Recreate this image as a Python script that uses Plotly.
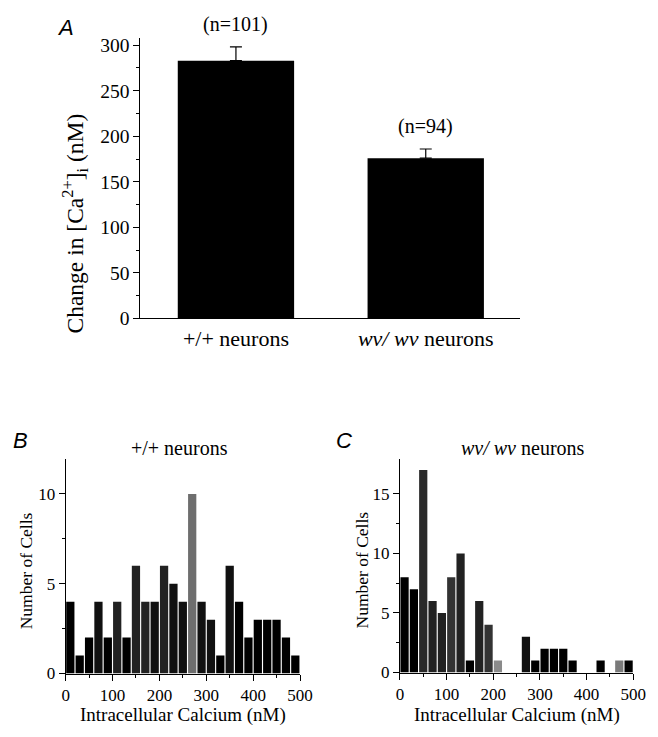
import plotly.graph_objects as go

# ---- Panel A data ----
groups = ["+/+ neurons", "<i>wv/ wv</i> neurons"]
mean_change = [283, 176]
sem_change = [15, 10]
n_labels = ["(n=101)", "(n=94)"]

# ---- Histogram data (20 nM bins, 0-500 nM) ----
bin_centers = [10, 30, 50, 70, 90, 110, 130, 150, 170, 190, 210, 230, 250,
               270, 290, 310, 330, 350, 370, 390, 410, 430, 450, 470, 490]
counts_wt = [4, 1, 2, 4, 2, 4, 2, 6, 4, 4, 6, 5, 4,
             10, 4, 3, 1, 6, 4, 2, 3, 3, 3, 2, 1]
counts_wv = [8, 7, 17, 6, 5, 8, 10, 1, 6, 4, 1, 0, 0,
             3, 1, 2, 2, 2, 1, 0, 0, 1, 0, 1, 1]
shade_wt = ["#000", "#000", "#000", "#111", "#000", "#222", "#000", "#222", "#222", "#111", "#222", "#111", "#111",
            "#6e6e6e", "#111", "#111", "#000", "#111", "#000", "#000", "#000", "#000", "#000", "#000", "#000"]
shade_wv = ["#000", "#000", "#2a2a2a", "#222", "#222", "#333", "#222", "#000", "#222", "#333", "#8a8a8a", "#000", "#000",
            "#111", "#000", "#000", "#000", "#000", "#000", "#000", "#000", "#000", "#000", "#7a7a7a", "#000"]

SERIF = "Liberation Serif, Times New Roman, serif"
SANS = "Liberation Sans, Arial, sans-serif"
W, H = 658, 737
OFF = 8  # page body margin

def px_x(p):
    return (p * (W + OFF) / W - OFF) / W

def px_y(p):
    return 1 - (p * (H + OFF) / H - OFF) / H

fig = go.Figure()

fig.add_trace(go.Bar(
    x=[0, 1], y=mean_change, width=0.613,
    marker=dict(color="black", line=dict(width=0)),
    error_y=dict(type="data", array=sem_change, arrayminus=[0, 0], symmetric=False,
                 color="black", thickness=1.2, width=6),
    xaxis="x", yaxis="y", showlegend=False))

fig.add_trace(go.Bar(
    x=bin_centers, y=counts_wt, marker=dict(color=shade_wt, line=dict(width=0)),
    xaxis="x2", yaxis="y2", showlegend=False))

fig.add_trace(go.Bar(
    x=bin_centers, y=counts_wv, marker=dict(color=shade_wv, line=dict(width=0)),
    xaxis="x3", yaxis="y3", showlegend=False))

def axis_style(size):
    return dict(showline=True, linecolor="black", linewidth=1, showgrid=False,
                zeroline=False, tickfont=dict(family=SERIF, size=size, color="black"),
                ticks="outside", tickcolor="black", ticklen=6, tickwidth=1)

fig.update_layout(
    width=W, height=H, margin=dict(l=0, r=0, t=0, b=0),
    paper_bgcolor="white", plot_bgcolor="white",
    font=dict(family=SERIF, color="black"),
    bargap=0.12,
    xaxis=dict(domain=[px_x(138), px_x(523)], range=[-0.504, 1.496], anchor="y",
               showline=True, linecolor="black", linewidth=1, showgrid=False, zeroline=False,
               tickvals=[0, 1], ticktext=groups, ticks="",
               tickfont=dict(family=SERIF, size=22, color="black")),
    yaxis=dict(domain=[px_y(318), px_y(35)], range=[0, 308], anchor="x",
               tickvals=[0, 50, 100, 150, 200, 250, 300],
               minor=dict(tickvals=[25, 75, 125, 175, 225, 275], ticks="outside",
                          ticklen=3, tickcolor="black"),
               **axis_style(19.5)),
    xaxis2=dict(domain=[px_x(62.3), px_x(300)], range=[0, 500], anchor="y2",
                tickvals=[0, 100, 200, 300, 400, 500],
                minor=dict(tickvals=[50, 150, 250, 350, 450], ticks="outside",
                           ticklen=3, tickcolor="black"),
                **axis_style(17)),
    yaxis2=dict(domain=[px_y(676), px_y(460)], range=[0, 11.93], anchor="x2",
                tickvals=[0, 5, 10],
                minor=dict(tickvals=[2.5, 7.5], ticks="outside", ticklen=3, tickcolor="black"),
                **axis_style(17)),
    xaxis3=dict(domain=[px_x(401.3), px_x(638)], range=[0, 500], anchor="y3",
                tickvals=[0, 100, 200, 300, 400, 500],
                minor=dict(tickvals=[50, 150, 250, 350, 450], ticks="outside",
                           ticklen=3, tickcolor="black"),
                **axis_style(17)),
    yaxis3=dict(domain=[px_y(675), px_y(460)], range=[0, 17.9], anchor="x3",
                tickvals=[0, 5, 10, 15],
                minor=dict(tickvals=[2.5, 7.5, 12.5], ticks="outside", ticklen=3, tickcolor="black"),
                **axis_style(17)),
)

ann = []
# n labels above error bars
for i, lab in enumerate(n_labels):
    ann.append(dict(x=i, y=mean_change[i] + sem_change[i], xref="x", yref="y",
                    text=lab, showarrow=False, yanchor="bottom", yshift=9,
                    font=dict(family=SERIF, size=20, color="black")))

def paper_text(x, y, text, size=17, family=SERIF, angle=0):
    return dict(x=px_x(x), y=px_y(y), xref="paper", yref="paper", text=text,
                showarrow=False, xanchor="center", yanchor="middle", textangle=angle,
                font=dict(family=family, size=size, color="black"))

ann += [
    paper_text(62, 25, "<i>A</i>", size=22, family=SANS),
    paper_text(17, 441, "<i>B</i>", size=22, family=SANS),
    paper_text(345, 441, "<i>C</i>", size=22, family=SANS),
    paper_text(72, 222, "Change in [Ca<sup>2+</sup>]<sub>i</sub> (nM)", size=23.5, angle=-90),
    paper_text(22, 572, "Number of Cells", size=17.5, angle=-90),
    paper_text(363, 572, "Number of Cells", size=17.5, angle=-90),
    paper_text(181, 718, "Intracellular Calcium (nM)", size=19, angle=0),
    paper_text(520, 718, "Intracellular Calcium (nM)", size=19, angle=0),
    paper_text(178, 449, "+/+ neurons", size=20, angle=0),
    paper_text(526, 449, "<i>wv/ wv</i> neurons", size=20, angle=0),
]
fig.update_layout(annotations=ann)

fig.write_html("out.html")
